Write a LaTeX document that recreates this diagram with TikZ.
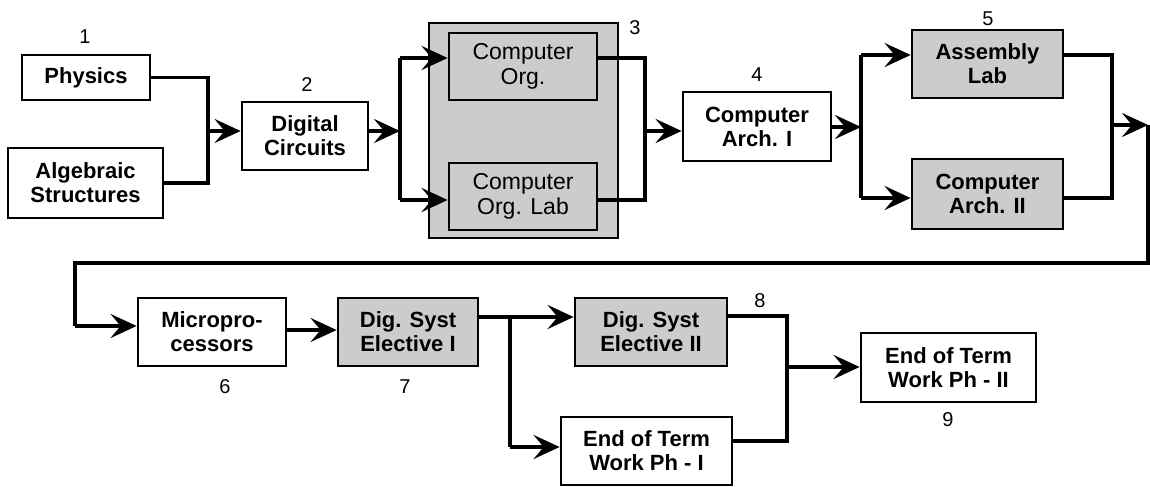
\documentclass[tikz,border=0pt]{standalone}
\usepackage{fontspec}
\setmainfont{Liberation Sans}
\usetikzlibrary{arrows.meta}
\begin{document}
\begin{tikzpicture}[x=1pt,y=-1pt,
  cbox/.style={draw, line width=2.8pt, fill=white, align=center, inner sep=0pt,
    font=\bfseries\fontsize{22}{24}\selectfont},
  shaded/.style={fill=black!20},
  plain/.style={font=\fontsize{23}{25}\selectfont},
  num/.style={font=\fontsize{20}{22}\selectfont, inner sep=0pt},
  wire/.style={line width=3.2pt, line join=miter},
  arr/.style={wire, -{Stealth[length=26pt, width=24pt, inset=10pt]}}]

% canvas
\path[fill=white] (0,0) rectangle (1150,486);

% ---------- first row ----------
\node[cbox, minimum width=128pt, minimum height=45pt] (phys) at (86,77.5) {Physics};
\node[cbox, minimum width=155pt, minimum height=70pt] (alg) at (85.5,183) {Algebraic\\Structures};
\node[cbox, minimum width=126pt, minimum height=68pt] (dig) at (305,136) {Digital\\Circuits};

\node[cbox, shaded, minimum width=189pt, minimum height=215pt] (grp) at (523.5,130.5) {};
\node[cbox, shaded, plain, minimum width=148pt, minimum height=67pt] (corg) at (523,66.5) {Computer\\Org.};
\node[cbox, shaded, plain, minimum width=148pt, minimum height=67pt] (corgl) at (523,196.5) {Computer\\Org. Lab};

\node[cbox, minimum width=148pt, minimum height=69pt] (arch1) at (757,126.5) {Computer\\Arch. I};
\node[cbox, shaded, minimum width=151pt, minimum height=68pt] (asm) at (987.5,64) {Assembly\\Lab};
\node[cbox, shaded, minimum width=151pt, minimum height=70pt] (arch2) at (987.5,194) {Computer\\Arch. II};

% ---------- second row ----------
\node[cbox, minimum width=148pt, minimum height=68pt] (micro) at (212,332) {Micropro-\\cessors};
\node[cbox, shaded, minimum width=140pt, minimum height=68pt] (dse1) at (408,332) {Dig. Syst\\Elective I};
\node[cbox, shaded, minimum width=152pt, minimum height=68pt] (dse2) at (651,332) {Dig. Syst\\Elective II};
\node[cbox, minimum width=171pt, minimum height=68pt] (et1) at (646.5,451) {End of Term\\Work Ph - I};
\node[cbox, minimum width=175pt, minimum height=69pt] (et2) at (948.5,367.5) {End of Term\\Work Ph - II};

% ---------- step numbers ----------
\node[num] (n1) at (85,37) {1};
\node[num] (n2) at (307,85) {2};
\node[num] (n3) at (635,28) {3};
\node[num] (n4) at (757,75) {4};
\node[num] (n5) at (988,19) {5};
\node[num] (n6) at (225,387) {6};
\node[num] (n7) at (405,387) {7};
\node[num] (n8) at (760,301) {8};
\node[num] (n9) at (948,420) {9};

% ---------- junction points ----------
\coordinate (j1) at (208,131);
\coordinate (j2) at (400,131);
\coordinate (j2a) at (400,58);
\coordinate (j2b) at (400,200);
\coordinate (j3) at (645,131);
\coordinate (j3a) at (645,58);
\coordinate (j3b) at (645,200);
\coordinate (j4) at (861,127);
\coordinate (j4a) at (861,55);
\coordinate (j4b) at (861,198);
\coordinate (j5) at (1112,125);
\coordinate (j5a) at (1112,55);
\coordinate (j5b) at (1112,198);
\coordinate (r1) at (1148,125);
\coordinate (r2) at (1148,263);
\coordinate (r3) at (75,263);
\coordinate (r4) at (75,326);
\coordinate (j6) at (250,330);
\coordinate (j7) at (510,317);
\coordinate (j7b) at (510,447);
\coordinate (j8a) at (787,316);
\coordinate (j8b) at (787,441);
\coordinate (j8) at (787,367);

% ---------- connectors ----------
\draw[wire] (phys.east) -| (j1) |- (alg.east);
\draw[arr] (j1) -- (j1 -| dig.west);

\draw[arr] (j2 -| dig.east) -- (j2);
\draw[wire] (j2a) -- (j2b);
\draw[arr] (j2a) -- (j2a -| corg.west);
\draw[arr] (j2b) -- (j2b -| corgl.west);

\draw[wire] (j3a -| corg.east) -- (j3a) -- (j3b) -- (j3b -| corgl.east);
\draw[arr] (j3) -- (j3 -| arch1.west);

\draw[arr] (j4 -| arch1.east) -- (j4);
\draw[wire] (j4a) -- (j4b);
\draw[arr] (j4a) -- (j4a -| asm.west);
\draw[arr] (j4b) -- (j4b -| arch2.west);

\draw[wire] (j5a -| asm.east) -- (j5a) -- (j5b) -- (j5b -| arch2.east);
\draw[arr] (j5) -- (r1);
\draw[wire] (r1) -- (r2) -- (r3) -- (r4);
\draw[arr] (r4) -- (r4 -| micro.west);

\draw[arr] (j6 -| micro.east) -- (j6 -| dse1.west);

\draw[wire] (j7 -| dse1.east) -- (j7) -- (j7b);
\draw[arr] (j7) -- (j7 -| dse2.west);
\draw[arr] (j7b) -- (j7b -| et1.west);

\draw[wire] (j8a -| dse2.east) -- (j8a) -- (j8b) -- (j8b -| et1.east);
\draw[arr] (j8) -- (j8 -| et2.west);
\end{tikzpicture}
\end{document}
